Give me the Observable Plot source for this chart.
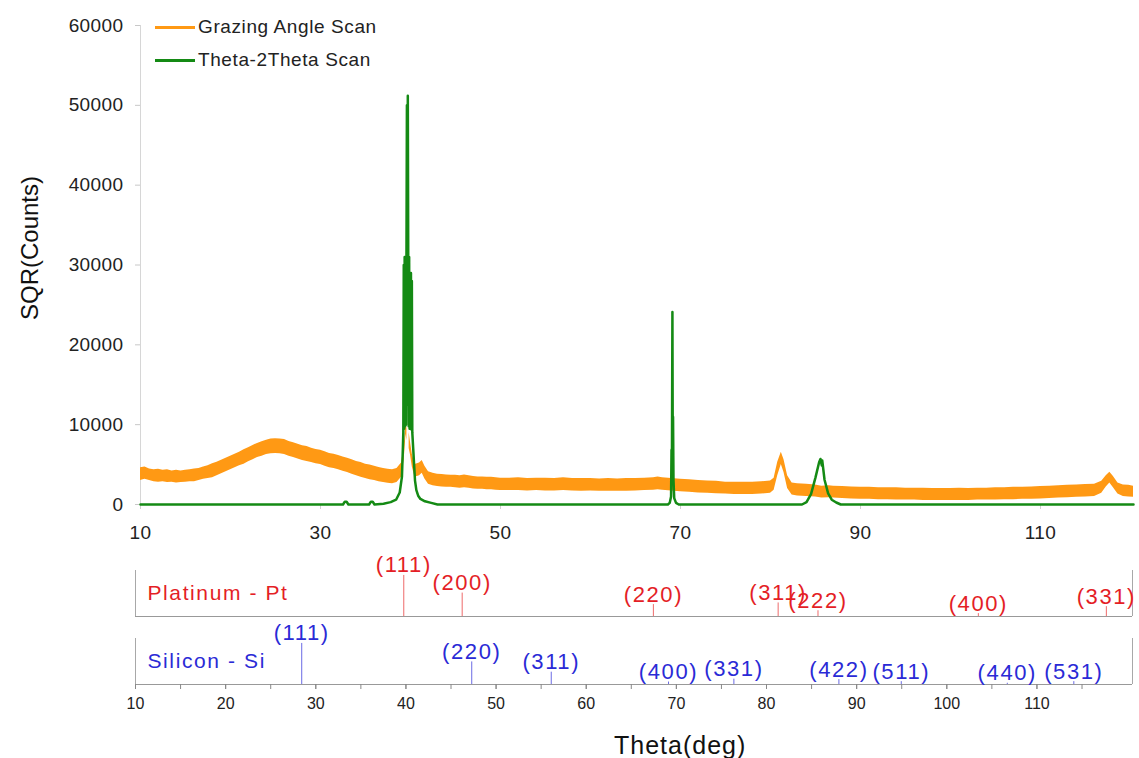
<!DOCTYPE html>
<html><head><meta charset="utf-8">
<script src="https://cdn.jsdelivr.net/npm/d3@7"></script>
<script src="https://cdn.jsdelivr.net/npm/@observablehq/plot@0.6"></script>
<style>
body{margin:0;background:#fff;}
#wrap{position:relative;width:1139px;height:758px;overflow:hidden;font-family:"Liberation Sans",Arial,sans-serif;background:#fff;}
#main,#sticks{position:absolute;left:0;}
#main{top:0;} #sticks{top:540px;}
.leg{position:absolute;left:155px;display:flex;align-items:center;font-size:19px;letter-spacing:0.6px;color:#222;line-height:20px;}
.leg i{display:inline-block;width:40px;height:3px;margin-right:3px;}
#ytitle{position:absolute;left:30px;top:248px;transform:translate(-50%,-50%) rotate(-90deg);font-size:24px;color:#111;white-space:nowrap;}
#xtitle{position:absolute;top:731px;left:614px;font-size:25px;letter-spacing:1px;color:#111;white-space:nowrap;}
.lowplot g[aria-label="text"] text{letter-spacing:1.6px;}
</style></head>
<body>
<div id="wrap">
  <div id="main"></div>
  <div id="sticks"></div>
  <div class="leg" style="top:17px"><i style="background:#ff9914"></i>Grazing Angle Scan</div>
  <div class="leg" style="top:50px"><i style="background:#148a14"></i>Theta-2Theta Scan</div>
  <div id="ytitle">SQR(Counts)</div>
  <div id="xtitle">Theta(deg)</div>
</div>
<script>
// ---------- Main chart data ----------
const mainXDomain = [10, 120.33];
const mainYDomain = [0, 60000];
const mainXTicks = [10, 30, 50, 70, 90, 110];
const mainYTicks = [0, 10000, 20000, 30000, 40000, 50000, 60000];

// Grazing angle scan: noisy band read as lower / upper envelope (counts)
const gaX  = [10,10.5,11,11.5,12,12.5,13,13.5,14,14.5,15,15.5,16,16.5,17,17.5,18,18.5,19,19.5,20,20.5,21,21.5,22,22.5,23,23.5,24,24.5,25,25.5,26,26.5,27,27.5,28,28.5,29,29.5,30,30.5,31,31.5,32,32.5,33,33.5,34,34.5,35,35.5,36,36.5,37,37.5,38,38.5,39,39.3,39.5,39.6,39.7,39.74,39.78,39.85,40,40.2,40.5,41,41.3,41.6,42,42.5,43,43.5,44,44.5,45,45.5,46,46.5,47,47.5,48,48.5,49,49.5,50,51,52,53,54,55,56,57,58,59,60,61,62,63,64,65,66,67,67.5,68,69,70,71,72,73,74,75,76,77,78,79,80,80.4,80.8,81.2,81.5,81.9,82.4,83,84,85,85.7,86.5,87,88,89,90,91,92,93,94,95,96,97,98,99,100,101,102,103,104,105,106,107,108,109,110,111,112,113,114,115,116,116.8,117.3,117.7,118.1,118.6,119.2,119.8,120.33];
const gaHi = [4600,4700,4450,4350,4400,4300,4350,4200,4300,4200,4300,4350,4450,4500,4700,4850,5100,5300,5550,5800,6050,6300,6550,6850,7100,7400,7650,7850,8050,8200,8250,8200,8150,7900,7750,7550,7350,7250,7050,6900,6800,6600,6400,6300,6150,5950,5800,5600,5400,5250,5050,4950,4800,4650,4500,4400,4350,4500,5200,7300,10400,9500,52300,10000,42700,9000,7800,6300,5000,5200,5500,4800,4100,3900,3800,3750,3700,3650,3650,3600,3700,3600,3500,3450,3450,3400,3400,3350,3300,3300,3350,3250,3300,3300,3250,3350,3250,3250,3250,3200,3250,3200,3250,3250,3300,3350,3450,3350,3250,3150,3100,3000,2950,2900,2800,2800,2800,2800,2850,2950,3300,5300,6550,5600,3600,2700,2600,2550,2450,2300,2350,2300,2250,2200,2150,2150,2100,2100,2100,2050,2050,2050,2000,2000,2000,2050,2000,2050,2050,2100,2100,2150,2150,2200,2250,2300,2350,2400,2450,2500,2550,2900,3600,4050,3500,2700,2450,2400,2300];
const gaLo = [3000,3150,3000,2850,2800,2850,2750,2800,2700,2750,2800,2850,2850,3000,3150,3250,3350,3600,3850,4100,4350,4600,4850,5050,5350,5600,5900,6050,6250,6350,6400,6350,6250,6050,5900,5700,5500,5400,5250,5100,5000,4800,4600,4500,4350,4150,4000,3800,3600,3400,3250,3100,3000,2850,2750,2650,2600,2750,3400,5600,8800,8000,51500,8000,41500,7000,6200,4700,3400,3600,3900,3200,2550,2350,2250,2200,2150,2150,2100,2050,2100,2050,1950,1900,1900,1850,1850,1800,1750,1750,1750,1700,1750,1700,1700,1750,1700,1650,1700,1650,1650,1650,1650,1700,1750,1800,1850,1800,1700,1600,1550,1450,1400,1350,1300,1250,1250,1250,1300,1400,1800,3600,5000,4000,2000,1200,1050,1000,950,800,850,800,750,700,650,650,600,600,550,550,550,500,500,500,500,500,500,550,550,550,600,600,650,650,700,750,800,850,900,950,1000,1400,2200,2700,2100,1300,1000,950,900];

// Theta-2Theta scan (counts)
const t2tX = [10,32.5,32.7,32.9,33.1,35.4,35.6,35.8,36,37,37.8,38.4,38.8,39.05,39.15,39.2,39.25,39.3,39.35,39.4,39.45,39.5,39.55,39.6,39.65,39.7,39.75,39.8,39.85,39.9,39.95,40,40.05,40.1,40.15,40.2,40.3,40.4,40.5,40.65,40.85,41.1,41.6,42.3,43,68.6,68.8,68.95,69,69.05,69.1,69.14,69.17,69.22,69.3,69.5,69.8,83.5,84,84.5,85,85.4,85.55,85.7,85.75,86,86.4,86.8,87.3,87.8,120.33];
const t2tY = [0,0,350,350,0,0,350,350,0,100,300,600,1500,3500,7000,9000,30000,9500,31000,9800,30500,10000,31000,50000,12500,51200,30000,9800,31000,9500,28500,9600,29000,9400,28000,9000,7000,5000,3000,1800,1100,700,400,200,0,0,200,1000,6800,7000,24100,6000,11000,3000,800,200,0,0,300,1300,3400,5300,5700,4900,5500,3100,1400,600,250,0,0];

// ---------- Stick patterns (reference lines) ----------
const lowXDomain = [10, 120.6];
const lowMinorTicks = [10,15,20,25,30,35,40,45,50,55,60,65,70,75,80,85,90,95,100,105,110,115];
const lowMajorTicks = [10,20,30,40,50,60,70,80,90,100,110];
const panelKeys  = ["Pt", "Si"];
const panelNames = ["Platinum - Pt", "Silicon - Si"];
const panelColors = ["#e41e26", "#2a2ad6"];
const panelLineColors = ["#ee6a6a", "#6a6ae4"];

const ptHkl   = ["(111)","(200)","(220)","(311)","(222)","(400)","(331)"];
const ptAngle = [39.76, 46.24, 67.45, 81.29, 85.71, 103.5, 117.7];
const ptInt   = [100, 57, 29, 33, 14, 7, 24];

const siHkl   = ["(111)","(220)","(311)","(400)","(331)","(422)","(511)","(440)","(531)"];
const siAngle = [28.44, 47.30, 56.12, 69.13, 76.38, 88.03, 94.95, 106.71, 114.09];
const siInt   = [100, 55, 30, 6, 13, 12, 7, 3, 7];

// ---------- Build tables ----------
const ga = gaX.map((x, i) => ({x, lo: gaLo[i], hi: gaHi[i]}));
const t2t = t2tX.map((x, i) => ({x, y: t2tY[i]}));
const sticks = [
  ...ptAngle.map((a, i) => ({panel: "Pt", angle: a, int: ptInt[i], hkl: ptHkl[i]})),
  ...siAngle.map((a, i) => ({panel: "Si", angle: a, int: siInt[i], hkl: siHkl[i]}))
];
const panels = panelKeys.map((k, i) => ({panel: k, name: panelNames[i]}));
const colorOf = k => panelColors[panelKeys.indexOf(k)];
const lineColorOf = k => panelLineColors[panelKeys.indexOf(k)];

const font = "Liberation Sans, Arial, sans-serif";

const main = Plot.plot({
  width: 1139, height: 560,
  marginLeft: 140, marginRight: 6, marginTop: 25, marginBottom: 56,
  style: {fontFamily: font, fontSize: "19px", color: "#222", background: "#fff", letterSpacing: "0.4px"},
  x: {domain: mainXDomain},
  y: {domain: mainYDomain},
  marks: [
    Plot.ruleX([mainXDomain[0]], {stroke: "#d6d6d6"}),
    Plot.axisY(mainYTicks, {tickSize: 5, tickPadding: 12, stroke: "#c8c8c8", fill: "#222", tickFormat: d3.format("d"), label: null}),
    Plot.axisX(mainXTicks, {tickSize: 5, tickPadding: 16, stroke: "#d0d0d0", fill: "#222", tickFormat: d3.format("d"), label: null}),
    Plot.areaY(ga, {x: "x", y1: "lo", y2: "hi", fill: "#ff9914"}),
    Plot.line(t2t, {x: "x", y: "y", stroke: "#148a14", strokeWidth: 2.5})
  ]
});
document.getElementById("main").appendChild(main);

const low = Plot.plot({
  className: "lowplot",
  width: 1139, height: 218,
  marginLeft: 135, marginRight: 7, marginTop: 30, marginBottom: 73,
  style: {fontFamily: font, fontSize: "16px", color: "#222", background: "transparent"},
  x: {domain: lowXDomain},
  y: {domain: [0, 112], axis: null},
  fy: {domain: panelKeys, paddingInner: 0.321, paddingOuter: 0, axis: null},
  marks: [
    Plot.ruleX(lowXDomain, {stroke: "#a8a8a8"}),
    Plot.ruleY([0], {stroke: "#999"}),
    Plot.ruleX(sticks, {x: "angle", y1: 0, y2: "int", fy: "panel", stroke: d => lineColorOf(d.panel), strokeWidth: 1}),
    Plot.text(sticks, {x: "angle", y: "int", fy: "panel", text: "hkl", lineAnchor: "bottom", dy: -3, fill: d => colorOf(d.panel), fontSize: 22}),
    Plot.text(panels, {fy: "panel", text: "name", frameAnchor: "left", dx: 12, fill: d => colorOf(d.panel), fontSize: 21}),
    Plot.axisX(lowMinorTicks, {tickSize: 5, stroke: "#888", tickFormat: () => "", label: null}),
    Plot.axisX(lowMajorTicks, {tickSize: 5, tickPadding: 8, stroke: "#888", fill: "#222", tickFormat: d3.format("d"), label: null})
  ]
});
document.getElementById("sticks").appendChild(low);
</script>
</body></html>
